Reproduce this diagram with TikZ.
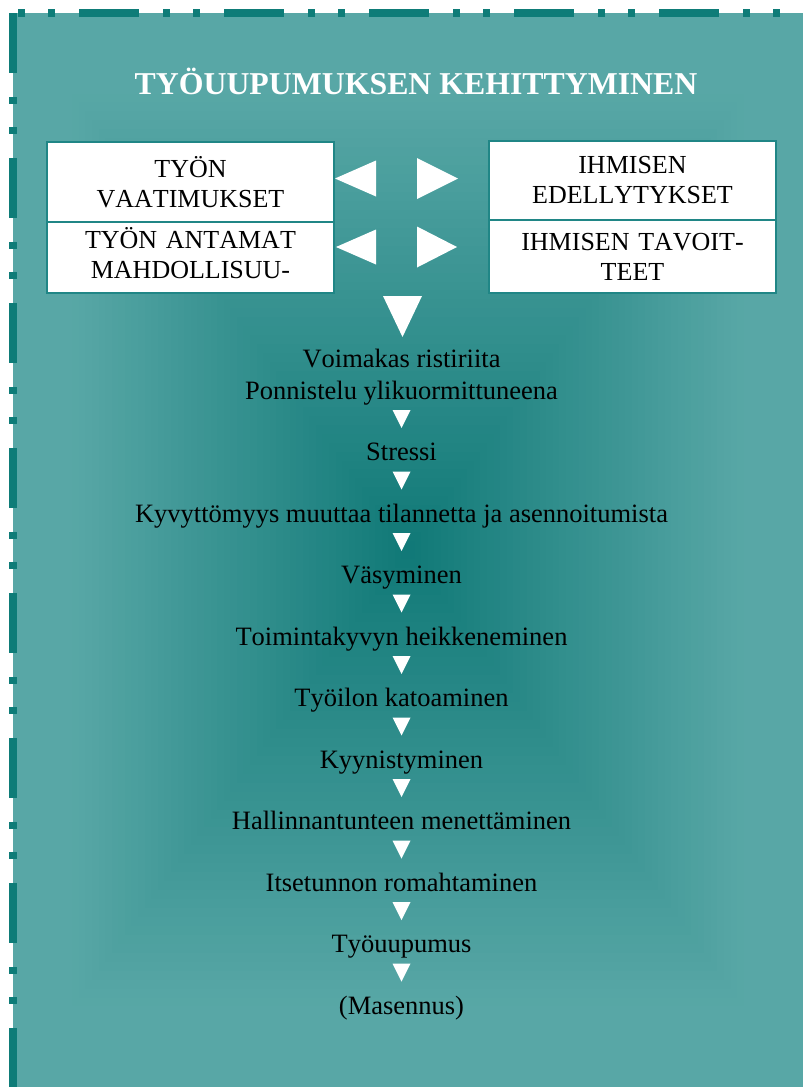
\documentclass[tikz,border=0pt]{standalone}
\usepackage{fontspec}
\setmainfont{Liberation Serif}[Kerning=Off]
\usetikzlibrary{shapes,arrows}
\usetikzlibrary{positioning}
\usetikzlibrary{calc}

\definecolor{slidelight}{RGB}{88,167,166}
\definecolor{slidedark}{RGB}{16,121,119}
\definecolor{rimcolor}{RGB}{14,124,120}
\definecolor{boxline}{RGB}{32,134,134}

\begin{document}
\begin{tikzpicture}[x=1pt,y=1pt]
 \useasboundingbox (0,0) rectangle (803,-1087);

 % slide background, darkest in the middle
 \foreach \i in {0,...,59} {
   \pgfmathsetmacro{\s}{1-\i/60}
   \pgfmathtruncatemacro{\f}{min(100,100*\s/0.85)}
   \fill[slidelight!\f!slidedark] (408-395*\s,-550+537*\s) rectangle (408+395*\s,-550-537*\s);
 }

 \tikzstyle{rim} = [rimcolor, line width=8pt];
 \draw[rim, dash pattern=on 60pt off 24pt on 7pt off 23pt on 7pt off 24pt] (13,-13) -- (13,-1087);
 \draw[rim, dash pattern=on 7pt off 23pt on 7pt off 24pt on 60pt off 24pt] (18,-13.3) -- (803,-13.3);

 \node (title) [anchor=base, text=white, font=\fontsize{31.8}{38}\selectfont\bfseries] at (416,-94) {TYÖUUPUMUKSEN KEHITTYMINEN};

 \tikzstyle{cell} = [draw=boxline, line width=1.2pt, fill=white, minimum width=287pt, inner sep=0pt, outer sep=0pt, text width=284pt, align=center, font=\fontsize{26}{30}\selectfont];

 \node (demands) [cell, minimum height=80pt] at (190.5,-182) {TYÖN\\VAATIMUKSET};
 \node (chances) [cell, minimum height=71pt, below=0pt of demands] {TYÖN ANTAMAT\\MAHDOLLISUU-\strut};
 \node (abilities) [cell, minimum height=79pt] at (632.5,-180.5) {IHMISEN\\EDELLYTYKSET};
 \node (goals) [cell, minimum height=73pt, below=0pt of abilities] {IHMISEN TAVOIT-\\TEET};

 \tikzstyle{tri} = [isosceles triangle, isosceles triangle stretches, fill=white, inner sep=0pt, outer sep=0pt];

 \node (back1) [tri, shape border rotate=180, minimum width=36pt, minimum height=41pt, anchor=apex] at (335,-178.5) {};
 \node (fwd1) [tri, minimum width=41pt, minimum height=41pt, anchor=lower side] at (417,-178.5) {};
 \node (back2) [tri, shape border rotate=180, minimum width=35pt, minimum height=40pt, anchor=apex] at (336,-247) {};
 \node (fwd2) [tri, minimum width=41pt, minimum height=40pt, anchor=lower side] at (417,-247) {};
 \node (down) [tri, shape border rotate=-90, minimum width=39pt, minimum height=41pt, anchor=lower side] at (402.5,-296) {};

 \tikzstyle{stage} = [font=\fontsize{26.5}{30}\selectfont, inner sep=0pt, outer sep=0pt, text height=18pt, text depth=6pt];
 \tikzstyle{onward} = [tri, shape border rotate=-90, minimum width=18pt, minimum height=18pt];

 \node (clash) [stage, anchor=base] at (401.5,-367) {Voimakas ristiriita};
 \node (strain) [stage, below=8pt of clash] {Ponnistelu ylikuormittuneena};
 \node (n1) [onward, below=5pt of strain] {};
 \node (stress) [stage, below=14.5pt of n1] {Stressi};
 \node (n2) [onward, below=5pt of stress] {};
 \node (inability) [stage, below=14.5pt of n2] {Kyvyttömyys muuttaa tilannetta ja asennoitumista};
 \node (n3) [onward, below=5pt of inability] {};
 \node (fatigue) [stage, below=14.5pt of n3] {Väsyminen};
 \node (n4) [onward, below=5pt of fatigue] {};
 \node (decline) [stage, below=14.5pt of n4] {Toimintakyvyn heikkeneminen};
 \node (n5) [onward, below=5pt of decline] {};
 \node (joyloss) [stage, below=14.5pt of n5] {Työilon katoaminen};
 \node (n6) [onward, below=5pt of joyloss] {};
 \node (cynicism) [stage, below=14.5pt of n6] {Kyynistyminen};
 \node (n7) [onward, below=5pt of cynicism] {};
 \node (control) [stage, below=14.5pt of n7] {Hallinnantunteen menettäminen};
 \node (n8) [onward, below=5pt of control] {};
 \node (selfesteem) [stage, below=14.5pt of n8] {Itsetunnon romahtaminen};
 \node (n9) [onward, below=5pt of selfesteem] {};
 \node (burnout) [stage, below=14.5pt of n9] {Työuupumus};
 \node (n10) [onward, below=5pt of burnout] {};
 \node (depression) [stage, below=14.5pt of n10] {(Masennus)};
\end{tikzpicture}
\end{document}
